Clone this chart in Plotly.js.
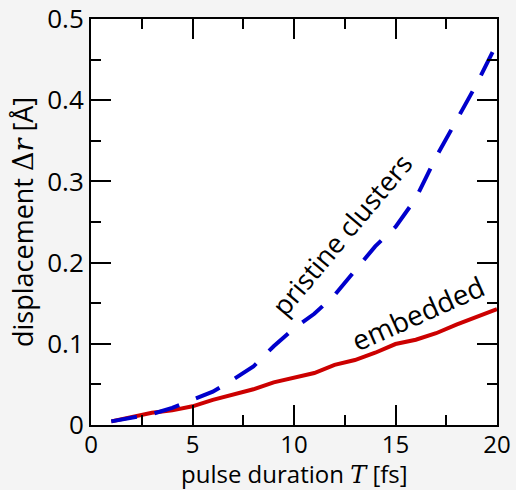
<!DOCTYPE html>
<html><head><meta charset="utf-8">
<script src="https://cdn.plot.ly/plotly-3.0.1.min.js"></script>
<style>html,body{margin:0;padding:0;background:#f4f4f4;}</style>
</head><body>
<div id="chart" style="width:516px;height:490px;"></div>
<script>
const T = [1,2,3,4,5,6,7,8,9,10,11,12,13,14,15,16,17,18,19,20];
const pristine = [0.0045,0.0086,0.0135,0.021,0.031,0.041,0.056,0.072,0.097,0.119,0.137,0.16,0.19,0.22,0.244,0.279,0.33,0.374,0.42,0.47];
const embedded = [0.0045,0.01,0.015,0.018,0.023,0.031,0.037,0.044,0.0525,0.058,0.064,0.074,0.080,0.089,0.0997,0.105,0.113,0.1235,0.133,0.1427];
const xTicks = [0,5,10,15,20];
const yTicks = [0,0.1,0.2,0.3,0.4,0.5];
const yTickText = ['0','0.1','0.2','0.3','0.4','0.5'];

const FONT = 'Open Sans, Noto Sans, sans-serif';
const data = [
  {x:T, y:embedded, mode:'lines', line:{color:'#cc0000', width:4}, hoverinfo:'skip'},
  {x:T, y:pristine, mode:'lines', line:{color:'#0000cc', width:4, dash:'26px,18px'}, hoverinfo:'skip'}
];
const layout = {
  width:516, height:490,
  paper_bgcolor:'#f4f4f4', plot_bgcolor:'#ffffff',
  margin:{l:91, r:19, t:19, b:65},
  showlegend:false,
  font:{family:FONT, color:'#000', size:26},
  xaxis:{
    range:[0,20], tickvals:xTicks, ticktext:xTicks.map(String),
    ticks:'inside', ticklen:20, tickwidth:2, tickcolor:'#000',
    minor:{ticks:'inside', dtick:2.5, tick0:0, ticklen:10, tickwidth:2, tickcolor:'#000'},
    showline:true, linecolor:'#000', linewidth:2, mirror:'allticks',
    showgrid:false, zeroline:false, tickfont:{size:24}, ticklabelstandoff:-3,
    title:{text:''}
  },
  yaxis:{
    range:[0,0.5], tickvals:yTicks, ticktext:yTickText,
    ticks:'inside', ticklen:20, tickwidth:2, tickcolor:'#000',
    minor:{ticks:'inside', dtick:0.05, tick0:0, ticklen:10, tickwidth:2, tickcolor:'#000'},
    showline:true, linecolor:'#000', linewidth:2, mirror:'allticks',
    showgrid:false, zeroline:false, tickfont:{size:26},
    title:{text:''}
  },
  annotations:[
    {x:0.5, y:0, xref:'paper', yref:'paper', yshift:-48, yanchor:'middle', xanchor:'center',
     text:'pulse duration <span style="font-family:DejaVu Serif, serif"><i>T</i></span> [fs]', showarrow:false, font:{size:24}},
    {x:0, y:0.5, xref:'paper', yref:'paper', xshift:-69, xanchor:'center', yanchor:'middle', textangle:-90,
     text:'displacement <span style="font-family:DejaVu Serif, serif">Δ<i>r</i></span> [Å]', showarrow:false, font:{size:27}},
    {x:12.35, y:0.234, xref:'x', yref:'y', text:'pristine clusters', showarrow:false, textangle:-50, font:{size:27, color:'#000'}},
    {x:16.1, y:0.138, xref:'x', yref:'y', text:'embedded', showarrow:false, textangle:-24, font:{size:28, color:'#000'}}
  ]
};
Plotly.newPlot('chart', data, layout, {displayModeBar:false, staticPlot:true});
</script>
</body></html>
